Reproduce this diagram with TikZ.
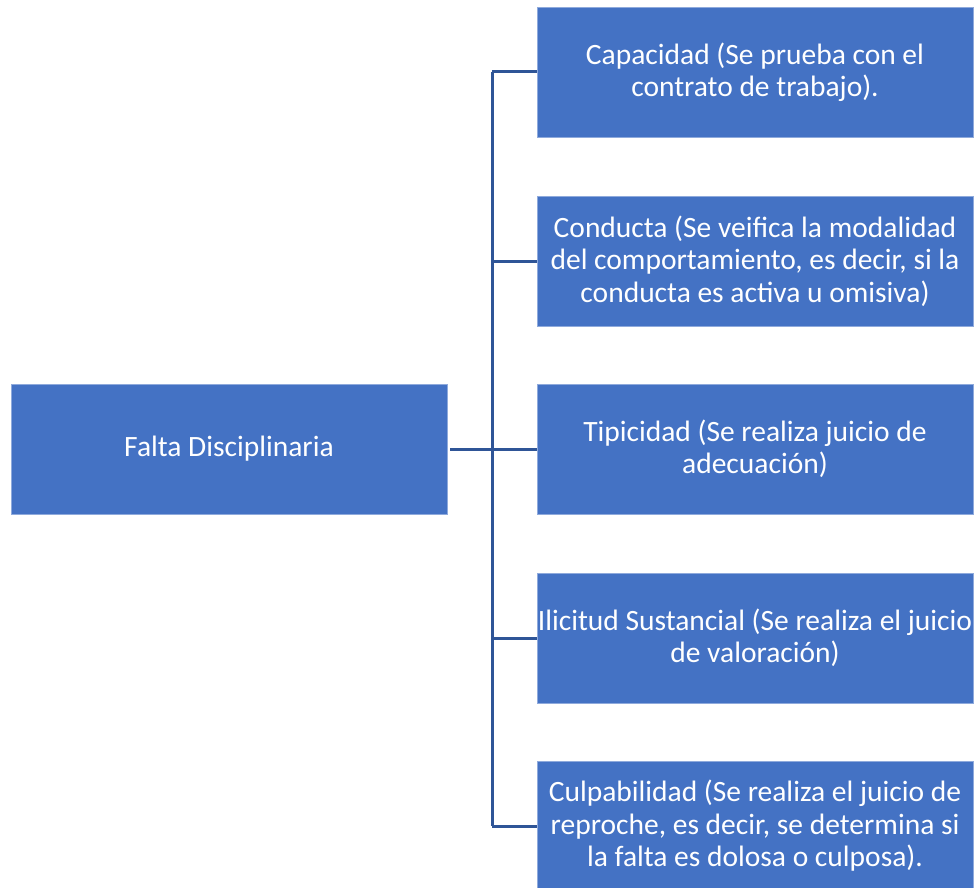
\documentclass[tikz,border=0pt]{standalone}
\usepackage{fontspec}
\setmainfont{Carlito}
\definecolor{boxblue}{HTML}{4472C4}
\definecolor{boxedge}{HTML}{8FAADC}
\definecolor{linkblue}{HTML}{2F5597}
\tikzset{
  caja/.style={fill=boxblue, draw=boxedge, line width=0.6pt, text=white,
    minimum width=436pt, minimum height=130pt, inner sep=0pt, align=center,
    font=\fontsize{29.5}{32.5}\selectfont},
  enlace/.style={draw=linkblue, line width=3pt}
}
\begin{document}
\begin{tikzpicture}[x=1pt,y=-1pt]
                \useasboundingbox (0,0) rectangle (977,888);
                \node[caja] (falta) at (229,449) {Falta Disciplinaria};
                \node[caja] (capacidad) at (755,72) {Capacidad (Se prueba con el\\contrato de trabajo).};
                \node[caja] (conducta) at (755,261) {Conducta (Se veifica la modalidad\\del comportamiento, es decir, si la\\conducta es activa u omisiva)};
                \node[caja] (tipicidad) at (755,449) {Tipicidad (Se realiza juicio de\\adecuación)};
                \node[caja] (ilicitud) at (755,638) {Ilicitud Sustancial (Se realiza el juicio\\de valoración)};
                \node[caja] (culpa) at (755,826) {Culpabilidad (Se realiza el juicio de\\reproche, es decir, se determina si\\la falta es dolosa o culposa).};
                \coordinate (eje) at (492,449);
                % tronco y ramas
                \draw[enlace, shorten <=3pt] (falta.east) -- (eje);
                \draw[enlace] (eje |- capacidad) -- (eje |- culpa);
                \foreach \b in {capacidad,conducta,tipicidad,ilicitud,culpa}
                  \draw[enlace] (eje |- \b) -- (\b.west);
            \end{tikzpicture}
\end{document}
